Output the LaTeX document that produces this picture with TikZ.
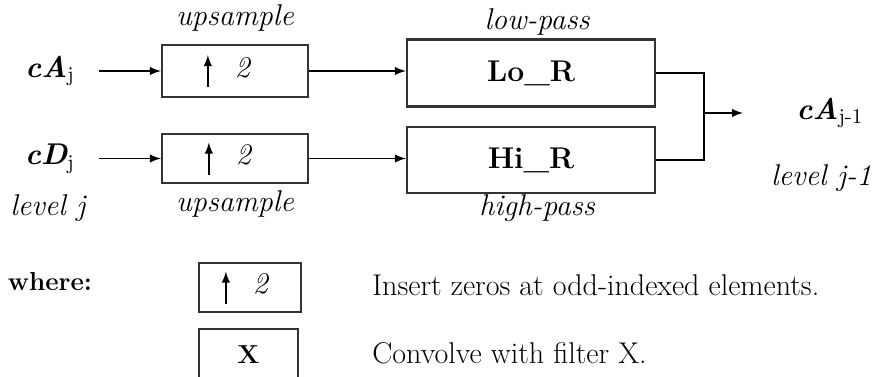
\documentclass[tikz,border=0pt]{standalone}
\newcommand{\uparr}{\tikz[baseline=-3pt]\draw[-latex,line width=0.9pt] (0,-8pt) -- (0,8pt);}
\newcommand{\upsamp}{\uparr\hspace{13pt}\textit{2}}
\begin{document}
\begin{tikzpicture}[x=0.5pt,y=-0.5pt]
  \tikzstyle{block}=[draw=black!80,line width=1.1pt,inner sep=0pt]
  \tikzstyle{lbl}=[inner sep=0pt,font=\fontsize{15}{17}\selectfont]
  \tikzstyle{lblb}=[inner sep=0pt,font=\fontsize{13}{15}\selectfont\bfseries]
  \tikzstyle{sig}=[draw,line width=0.9pt,-latex]
  \useasboundingbox (0,0) rectangle (877,376);
  % inputs
  \node [lbl] (cA) at (50,71) {{\bfseries\itshape cA}\textsubscript{j}};
  \node [lbl] (cD) at (50,159) {{\bfseries\itshape cD}\textsubscript{j}};
  \node [lbl] (lvl) at (48,208) {\itshape level j};
  \coordinate (inA) at (99,71);
  \coordinate (inD) at (99,158.5);
  % upsampling
  \node [block,minimum width=73pt,minimum height=26pt] (up1) at (235,71) {};
  \node [block,minimum width=73pt,minimum height=24.5pt] (up2) at (235,158.5) {};
  \node [lbl] (up1txt) at (229,71) {\upsamp};
  \node [lbl] (up2txt) at (230,158.5) {\upsamp};
  \node [lbl] (ups1) at (235,18) {\itshape upsample};
  \node [lbl] (ups2) at (235,204) {\itshape upsample};
  % filters
  \node [block,lblb,font=\fontsize{15}{17}\selectfont\bfseries,minimum width=124pt,minimum height=33.5pt] (lo) at (531,73) {Lo\_R};
  \node [block,lblb,font=\fontsize{15}{17}\selectfont\bfseries,minimum width=124pt,minimum height=33pt] (hi) at (531,160) {Hi\_R};
  \node [lbl] (lp) at (537,22) {\itshape low-pass};
  \node [lbl] (hp) at (537,208) {\itshape high-pass};
  \path[sig] (inA) -- (up1);
  \path[sig] (inD) -- (up2);
  \path[sig] (up1.east) -- (up1.east -| lo.west);
  \path[sig] (up2.east) -- (up2.east -| hi.west);
  % output
  \coordinate (jn) at (704,113);
  \coordinate (outA) at (743,113);
  \draw[line width=0.9pt] (lo.east) -- (lo.east -| jn) -- (hi.east -| jn) -- (hi.east);
  \path[sig] (jn) -- (outA);
  \node [lbl] (cA1) at (830,113) {{\bfseries\itshape cA}\textsubscript{j-1}};
  \node [lbl,anchor=east] (lvl1) at (872,178) {\itshape level j-1};
  % key
  \node [lblb] (where) at (50,282) {where:};
  \node [block,minimum width=51pt,minimum height=24.5pt] (key1) at (250,287.5) {};
  \node [lbl] (key1txt) at (247,287.5) {\upsamp};
  \node [block,lblb,minimum width=49.5pt,minimum height=25.5pt] (key2) at (248.5,354.5) {X};
  \node [lbl,anchor=west] (ins) at (372,285) {Insert zeros at odd-indexed elements.};
  \node [lbl,anchor=west] (conv) at (372,353) {Convolve with filter X.};
\end{tikzpicture}
\end{document}
